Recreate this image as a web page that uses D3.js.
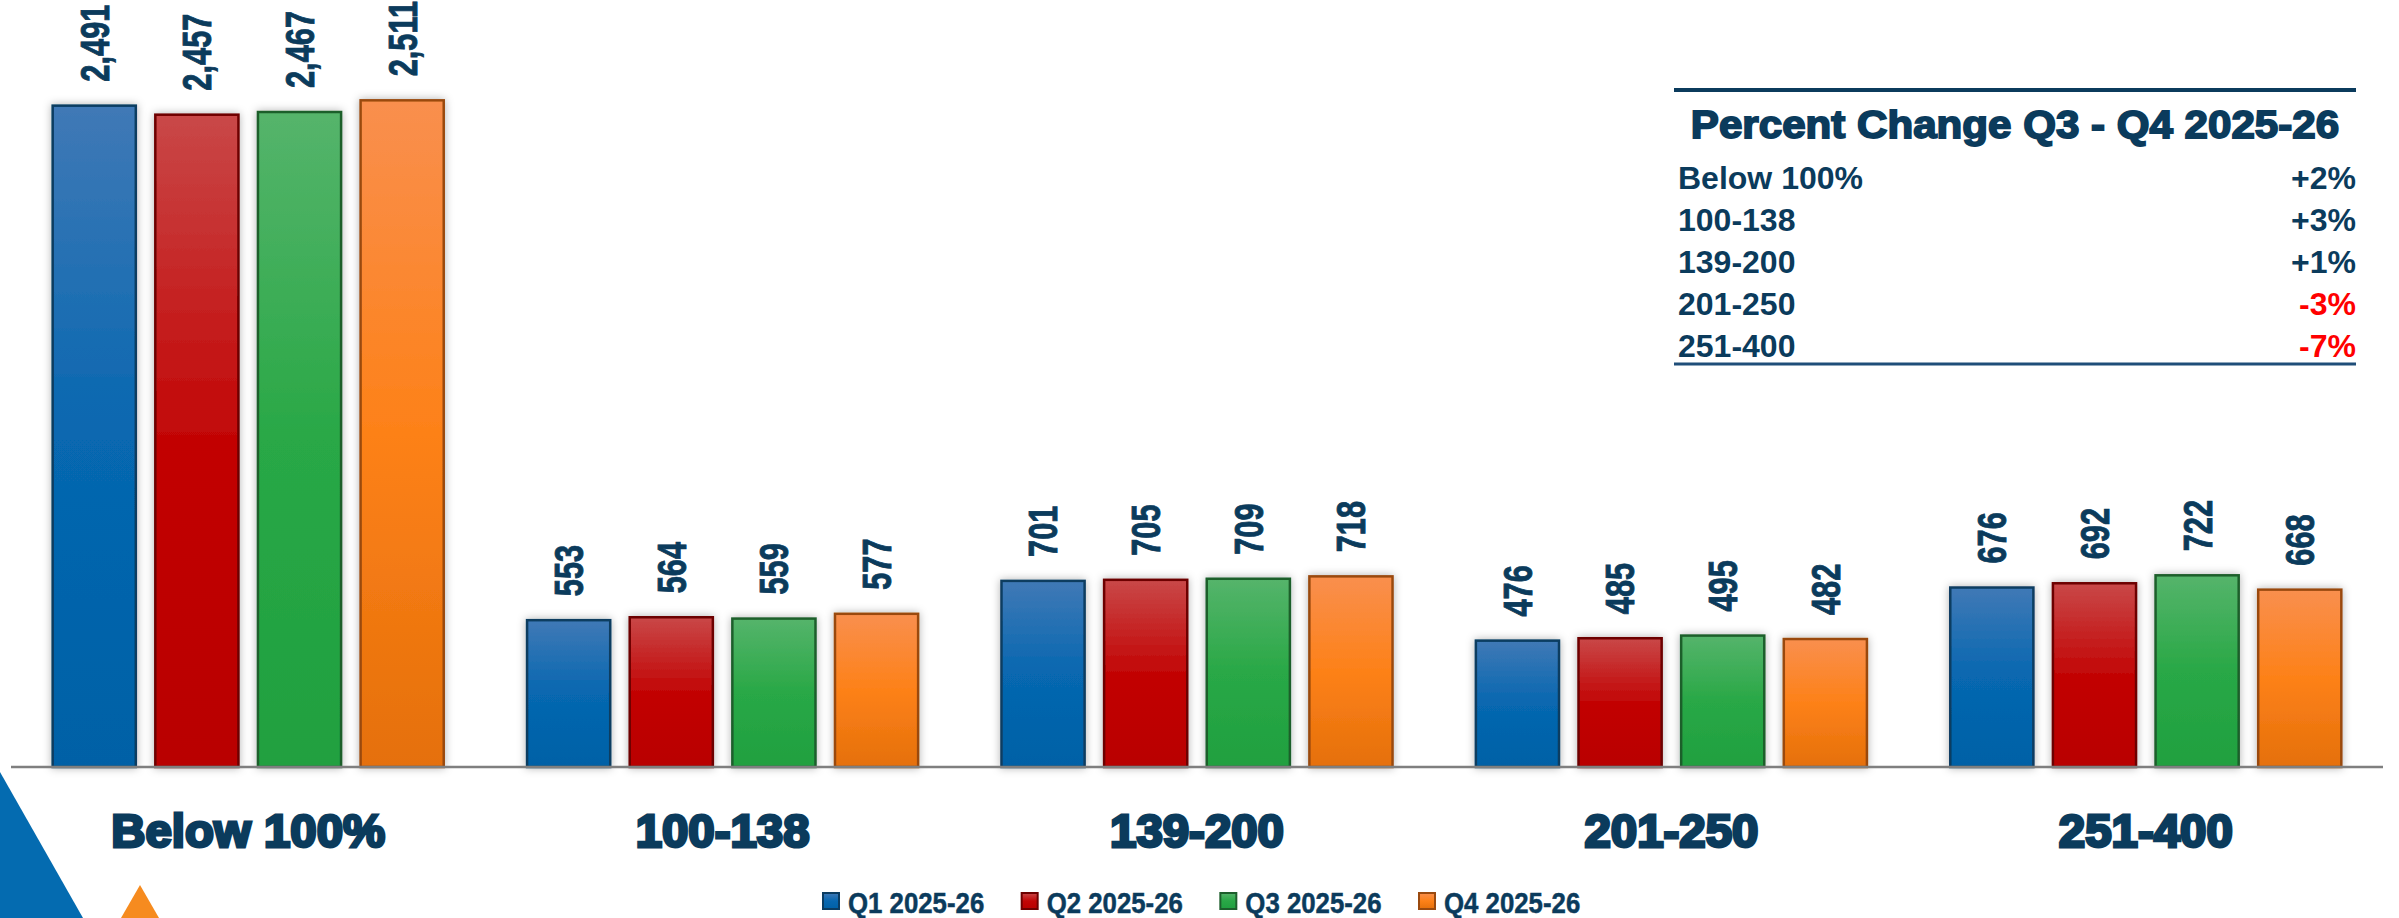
<!DOCTYPE html>
<html>
<head>
<meta charset="utf-8">
<script src="https://cdn.jsdelivr.net/npm/d3@7"></script>
<style>
  html, body { margin: 0; padding: 0; background: #ffffff; }
  svg { display: block; }
</style>
</head>
<body>
<div id="chart"></div>
<script>
// chart values
var categories = ["Below 100%", "100-138", "139-200", "201-250", "251-400"];
var seriesNames = ["Q1 2025-26", "Q2 2025-26", "Q3 2025-26", "Q4 2025-26"];
var q1Values = [2491, 553, 701, 476, 676];
var q2Values = [2457, 564, 705, 485, 692];
var q3Values = [2467, 559, 709, 495, 722];
var q4Values = [2511, 577, 718, 482, 668];
var pctChange = ["+2%", "+3%", "+1%", "-3%", "-7%"];
var tableTitle = "Percent Change Q3 - Q4 2025-26";

var allValues = [q1Values, q2Values, q3Values, q4Values];

var svgWidth = 2399;
var svgHeight = 918;
var navy = "#0b3b5c";
var fontFamily = "'Liberation Sans', Arial, sans-serif";

// colours per series: top, middle, bottom, border
var seriesColors = [
    { top: "#4079b6", mid: "#0767b0", bot: "#0061a6", line: "#0b3c61" },
    { top: "#c94848", mid: "#c20505", bot: "#b90000", line: "#6d0000" },
    { top: "#55b46b", mid: "#29a846", bot: "#20a040", line: "#1d5e2c" },
    { top: "#f98f4e", mid: "#fd8118", bot: "#e5700b", line: "#9a4a0f" }
];

var svg = d3.select("#chart")
    .append("svg")
    .attr("width", svgWidth)
    .attr("height", svgHeight);

var defs = svg.append("defs");

seriesColors.forEach(function(c, i) {
    var g = defs.append("linearGradient")
        .attr("id", "grad" + i)
        .attr("x1", 0).attr("y1", 0)
        .attr("x2", 0).attr("y2", 1);
    g.append("stop").attr("offset", "0%").attr("stop-color", c.top);
    g.append("stop").attr("offset", "50%").attr("stop-color", c.mid);
    g.append("stop").attr("offset", "100%").attr("stop-color", c.bot);
});

var shadow = defs.append("filter")
    .attr("id", "shadow")
    .attr("x", "-20%").attr("y", "-10%")
    .attr("width", "140%").attr("height", "120%");
shadow.append("feDropShadow")
    .attr("dx", 0).attr("dy", 0)
    .attr("stdDeviation", 4)
    .attr("flood-color", "#000")
    .attr("flood-opacity", 0.3);

// decorative corner shapes
svg.append("polygon")
    .attr("points", "0,772 83,918 0,918")
    .attr("fill", "#046bb0");
svg.append("polygon")
    .attr("points", "121,918 140,885 159,918")
    .attr("fill", "#f68b1f");

// scales
var x0 = d3.scaleBand()
    .domain(categories)
    .range([11, 2383])
    .padding(0);

var x1 = d3.scaleBand()
    .domain(seriesNames)
    .range([0, x0.bandwidth()])
    .paddingInner(0.19)
    .paddingOuter(0.406);

var y = d3.scaleLinear()
    .domain([0, 2500])
    .range([767, 103.25]);

// flatten for drawing
var barData = [];
categories.forEach(function(cat, ci) {
    seriesNames.forEach(function(s, si) {
        barData.push({ cat: cat, series: s, si: si, value: allValues[si][ci] });
    });
});

var chartGroup = svg.append("g");

chartGroup.selectAll("rect.bar")
    .data(barData)
    .enter()
    .append("rect")
    .attr("class", "bar")
    .attr("x", d => x0(d.cat) + x1(d.series))
    .attr("y", d => y(d.value))
    .attr("width", x1.bandwidth())
    .attr("height", d => y(0) - y(d.value))
    .attr("fill", d => "url(#grad" + d.si + ")")
    .attr("stroke", d => seriesColors[d.si].line)
    .attr("stroke-width", 2.5)
    .attr("filter", "url(#shadow)");

// baseline
chartGroup.append("line")
    .attr("x1", x0.range()[0])
    .attr("x2", x0.range()[1])
    .attr("y1", y(0))
    .attr("y2", y(0))
    .attr("stroke", "#7f7f7f")
    .attr("stroke-width", 2.5);

// value labels, rotated and squeezed like a narrow face
chartGroup.selectAll("text.value")
    .data(barData)
    .enter()
    .append("text")
    .attr("class", "value")
    .attr("transform", d => "translate(" + (x0(d.cat) + x1(d.series) + x1.bandwidth() / 2) + "," + (y(d.value) - 24) + ") rotate(-90) scale(0.77,1)")
    .attr("dy", "0.36em")
    .attr("text-anchor", "start")
    .attr("font-family", fontFamily)
    .attr("font-weight", "bold")
    .attr("font-size", 40)
    .attr("fill", navy)
    .attr("stroke", navy)
    .attr("stroke-width", 0.9)
    .text(d => d3.format(",")(d.value));

// category labels
chartGroup.selectAll("text.cat")
    .data(categories)
    .enter()
    .append("text")
    .attr("class", "cat")
    .attr("transform", d => "translate(" + (x0(d) + x0.bandwidth() / 2) + ",847) scale(1.03,1)")
    .attr("text-anchor", "middle")
    .attr("font-family", fontFamily)
    .attr("font-weight", "bold")
    .attr("font-size", 46)
    .attr("fill", navy)
    .attr("stroke", navy)
    .attr("stroke-width", 3)
    .text(d => d);

// percent change table
var table = svg.append("g");
var tableLeft = 1674, tableRight = 2356;
var rowScale = d3.scaleLinear().domain([0, 4]).range([189, 357]);

table.append("line")
    .attr("x1", tableLeft).attr("x2", tableRight)
    .attr("y1", 90).attr("y2", 90)
    .attr("stroke", navy).attr("stroke-width", 4);

table.append("text")
    .attr("transform", "translate(" + ((tableLeft + tableRight) / 2) + ",138) scale(1.08,1)")
    .attr("text-anchor", "middle")
    .attr("font-family", fontFamily)
    .attr("font-weight", "bold")
    .attr("font-size", 39)
    .attr("fill", navy)
    .attr("stroke", navy)
    .attr("stroke-width", 1.8)
    .text(tableTitle);

table.selectAll("text.rowname")
    .data(categories)
    .enter()
    .append("text")
    .attr("class", "rowname")
    .attr("x", tableLeft + 4)
    .attr("y", (d, i) => rowScale(i))
    .attr("font-family", fontFamily)
    .attr("font-weight", "bold")
    .attr("font-size", 32)
    .attr("fill", navy)
    .text(d => d);

table.selectAll("text.rowpct")
    .data(pctChange)
    .enter()
    .append("text")
    .attr("class", "rowpct")
    .attr("x", tableRight)
    .attr("y", (d, i) => rowScale(i))
    .attr("text-anchor", "end")
    .attr("font-family", fontFamily)
    .attr("font-weight", "bold")
    .attr("font-size", 32)
    .attr("fill", d => d.charAt(0) === "-" ? "#ff0000" : navy)
    .text(d => d);

table.append("line")
    .attr("x1", tableLeft).attr("x2", tableRight)
    .attr("y1", 364).attr("y2", 364)
    .attr("stroke", "#1f4e79").attr("stroke-width", 3);

// legend
var legendX = d3.scaleLinear().domain([0, 3]).range([823, 1419]);
var legend = svg.append("g")
    .selectAll("g")
    .data(seriesNames)
    .enter()
    .append("g")
    .attr("transform", (d, i) => "translate(" + legendX(i) + ",893)");

legend.append("rect")
    .attr("width", 16)
    .attr("height", 16)
    .attr("fill", (d, i) => "url(#grad" + i + ")")
    .attr("stroke", (d, i) => seriesColors[i].line)
    .attr("stroke-width", 2);

legend.append("text")
    .attr("transform", "translate(25,20) scale(0.86,1)")
    .attr("font-family", fontFamily)
    .attr("font-weight", "bold")
    .attr("font-size", 30)
    .attr("fill", navy)
    .attr("stroke", navy)
    .attr("stroke-width", 0.5)
    .text(d => d);
</script>
</body>
</html>
